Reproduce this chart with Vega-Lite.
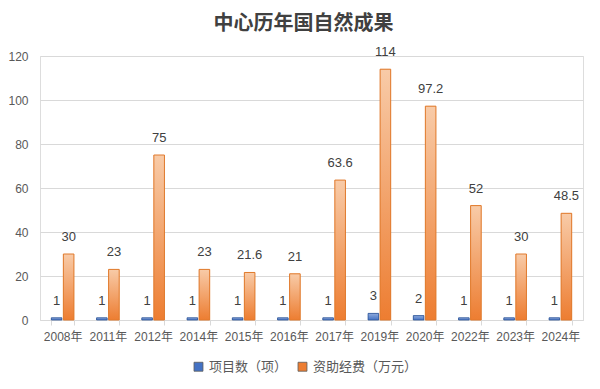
{
  "$schema": "https://vega.github.io/schema/vega-lite/v6.json",
  "width": 543,
  "height": 264,
  "autosize": "none",
  "padding": {"left": 40, "top": 56, "right": 17, "bottom": 69},
  "background": "white",
  "title": {
    "text": "中心历年国自然成果",
    "font": "Noto Sans CJK SC",
    "fontSize": 20,
    "fontWeight": "bold",
    "color": "#404040",
    "anchor": "middle",
    "offset": 12,
    "dx": -8
  },
  "data": {
    "values": [
      {"year": "2008年", "series": "项目数（项）", "value": 1},
      {"year": "2008年", "series": "资助经费（万元）", "value": 30},
      {"year": "2011年", "series": "项目数（项）", "value": 1},
      {"year": "2011年", "series": "资助经费（万元）", "value": 23},
      {"year": "2012年", "series": "项目数（项）", "value": 1},
      {"year": "2012年", "series": "资助经费（万元）", "value": 75},
      {"year": "2014年", "series": "项目数（项）", "value": 1},
      {"year": "2014年", "series": "资助经费（万元）", "value": 23},
      {"year": "2015年", "series": "项目数（项）", "value": 1},
      {"year": "2015年", "series": "资助经费（万元）", "value": 21.6},
      {"year": "2016年", "series": "项目数（项）", "value": 1},
      {"year": "2016年", "series": "资助经费（万元）", "value": 21},
      {"year": "2017年", "series": "项目数（项）", "value": 1},
      {"year": "2017年", "series": "资助经费（万元）", "value": 63.6},
      {"year": "2019年", "series": "项目数（项）", "value": 3},
      {"year": "2019年", "series": "资助经费（万元）", "value": 114},
      {"year": "2020年", "series": "项目数（项）", "value": 2},
      {"year": "2020年", "series": "资助经费（万元）", "value": 97.2},
      {"year": "2022年", "series": "项目数（项）", "value": 1},
      {"year": "2022年", "series": "资助经费（万元）", "value": 52},
      {"year": "2023年", "series": "项目数（项）", "value": 1},
      {"year": "2023年", "series": "资助经费（万元）", "value": 30},
      {"year": "2024年", "series": "项目数（项）", "value": 1},
      {"year": "2024年", "series": "资助经费（万元）", "value": 48.5}
    ]
  },
  "encoding": {
    "x": {
      "field": "year",
      "type": "nominal",
      "sort": null,
      "title": null,
      "scale": {"paddingInner": 0.5, "paddingOuter": 0.25},
      "axis": {
        "labelAngle": 0,
        "labelFont": "Liberation Sans, Noto Sans CJK SC",
        "labelFontSize": 12,
        "labelColor": "#595959",
        "labelPadding": 6,
        "domainColor": "#D9D9D9",
        "tickColor": "#D9D9D9",
        "tickBand": "extent",
        "tickSize": 5
      }
    },
    "xOffset": {
      "field": "series",
      "type": "nominal",
      "scale": {"domain": ["项目数（项）", "资助经费（万元）"], "paddingInner": 0.12}
    },
    "y": {
      "field": "value",
      "type": "quantitative",
      "title": null,
      "scale": {"domain": [0, 120]},
      "axis": {
        "values": [0, 20, 40, 60, 80, 100, 120],
        "labelFont": "Liberation Sans",
        "labelFontSize": 12,
        "labelColor": "#595959",
        "labelPadding": 12,
        "domain": false,
        "ticks": false,
        "gridColor": "#D9D9D9"
      }
    }
  },
  "layer": [
    {
      "mark": {"type": "bar"},
      "encoding": {
        "color": {
          "field": "series",
          "type": "nominal",
          "scale": {"domain": ["项目数（项）", "资助经费（万元）"], "range": ["#4472C4", "#ED7D31"]},
          "legend": {
            "title": null,
            "orient": "none",
            "legendX": 152,
            "legendY": 304,
            "direction": "horizontal",
            "symbolType": "square",
            "symbolSize": 80,
            "symbolStrokeColor": "#5a5a5a",
            "symbolStrokeWidth": 0.8,
            "labelFont": "Noto Sans CJK SC",
            "labelFontSize": 13,
            "labelColor": "#595959",
            "columnPadding": 8
          }
        }
      }
    },
    {
      "transform": [{"filter": "datum.series === '项目数（项）'"}],
      "mark": {
        "type": "bar",
        "stroke": "#2F5597",
        "strokeWidth": 0.8,
        "fill": {"gradient": "linear", "x1": 0, "y1": 0, "x2": 0, "y2": 1,
          "stops": [{"offset": 0, "color": "#8FAADC"}, {"offset": 1, "color": "#4472C4"}]}
      },
      "encoding": {}
    },
    {
      "transform": [{"filter": "datum.series === '资助经费（万元）'"}],
      "mark": {
        "type": "bar",
        "stroke": "#E07B2E",
        "strokeWidth": 1,
        "fill": {"gradient": "linear", "x1": 0, "y1": 0, "x2": 0, "y2": 1,
          "stops": [{"offset": 0, "color": "#F8CBA8"}, {"offset": 1, "color": "#ED7D31"}]}
      },
      "encoding": {}
    },
    {
      "mark": {
        "type": "text",
        "baseline": "bottom",
        "dy": -10,
        "font": "Liberation Sans",
        "fontSize": 13,
        "color": "#404040"
      },
      "encoding": {
        "text": {"field": "value", "type": "quantitative"}
      }
    }
  ]
}
